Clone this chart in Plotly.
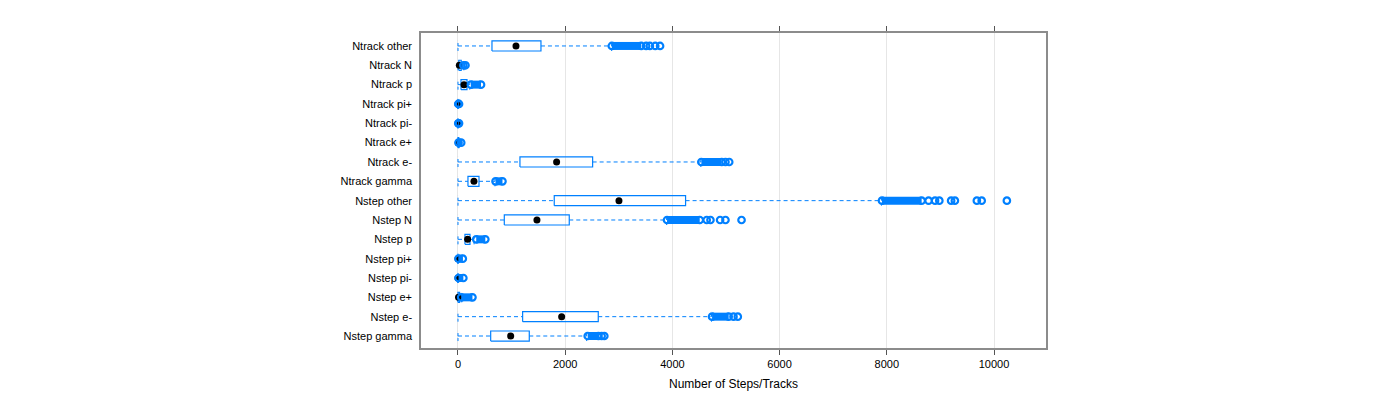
"""Lattice-style box-and-whisker chart of steps/tracks per particle type."""

import plotly.graph_objects as go

categories = [
    "Ntrack other", "Ntrack N", "Ntrack p", "Ntrack pi+", "Ntrack pi-", "Ntrack e+",
    "Ntrack e-", "Ntrack gamma", "Nstep other", "Nstep N", "Nstep p", "Nstep pi+",
    "Nstep pi-", "Nstep e+", "Nstep e-", "Nstep gamma",
]
q1 = [634, 15, 56, 0, 0, 0, 1156, 186, 1796, 864, 130, 0, 0, 0, 1206, 610]
median = [1082, 25, 112, 0, 0, 5, 1840, 298, 3003, 1473, 180, 0, 0, 10, 1934, 983]
q3 = [1548, 60, 168, 0, 0, 15, 2512, 392, 4246, 2076, 224, 0, 0, 30, 2617, 1330]
whisker_lo = [0] * 16
whisker_hi = [2866, 110, 220, 0, 0, 30, 4530, 690, 7900, 3892, 300, 0, 0, 70, 4730, 2400]
# dense run of outliers (drawn as overlapping circles), then the sparse ones
dense_lo = [2870, 100, 240, 5, 5, 10, 4540, 700, 7910, 3900, 340, 10, 10, 60, 4740, 2420]
dense_hi = [3420, 140, 430, 20, 20, 60, 4920, 830, 8650, 4510, 510, 90, 100, 270, 5050, 2620]
sparse = [
    [3510, 3580, 3680, 3770], [], [], [], [], [], [4990, 5060], [],
    [8780, 8900, 8980, 9200, 9270, 9680, 9770, 10240], [4640, 4710, 4890, 4990, 5290],
    [], [], [], [], [5140, 5220], [2680, 2730],
]
x_ticks = [0, 2000, 4000, 6000, 8000, 10000]

BLUE = "#0080ff"
H = 0.26  # half box height in row units

n = len(categories)
ypos = [n - i for i in range(n)]

fig = go.Figure()

box_x, box_y, wh_x, wh_y, st_x, st_y = [], [], [], [], [], []
for i in range(n):
    y = ypos[i]
    box_x += [q1[i], q3[i], q3[i], q1[i], q1[i], None]
    box_y += [y - H, y - H, y + H, y + H, y - H, None]
    wh_x += [whisker_lo[i], q1[i], None, q3[i], whisker_hi[i], None]
    wh_y += [y, y, None, y, y, None]
    st_x += [whisker_lo[i], whisker_lo[i], None, whisker_hi[i], whisker_hi[i], None]
    st_y += [y - H, y + H, None, y - H, y + H, None]

fig.add_trace(go.Scatter(x=wh_x, y=wh_y, mode="lines", line=dict(color=BLUE, width=1, dash="4px,3px"), hoverinfo="skip"))
fig.add_trace(go.Scatter(x=st_x, y=st_y, mode="lines", line=dict(color=BLUE, width=1, dash="3px,2px"), hoverinfo="skip"))
fig.add_trace(go.Scatter(x=box_x, y=box_y, mode="lines", line=dict(color=BLUE, width=1.2), hoverinfo="skip"))

fig.add_trace(go.Scatter(x=median, y=ypos, mode="markers", marker=dict(color="black", size=7), hoverinfo="skip"))

band_x, band_y, end_x, end_y = [], [], [], []
for i in range(n):
    y = ypos[i]
    band_x += [dense_lo[i], dense_hi[i], None]
    band_y += [y, y, None]
    end_x += [dense_lo[i], dense_hi[i]] + sparse[i]
    end_y += [y, y] + [y] * len(sparse[i])

fig.add_trace(go.Scatter(x=band_x, y=band_y, mode="lines", line=dict(color=BLUE, width=8), hoverinfo="skip"))
fig.add_trace(go.Scatter(
    x=end_x, y=end_y, mode="markers",
    marker=dict(symbol="circle-open", size=6.5, color=BLUE, line=dict(width=2.2, color=BLUE)),
    hoverinfo="skip",
))

fig.update_layout(
    width=1400, height=400,
    margin=dict(l=413, r=362, t=25, b=60),
    paper_bgcolor="white", plot_bgcolor="white",
    showlegend=False,
    font=dict(family="Liberation Sans, Arial, sans-serif", size=11, color="black"),
)
fig.update_xaxes(
    range=[-690, 10970], tickvals=x_ticks, ticktext=[str(v) for v in x_ticks],
    ticks="outside", ticklen=5, tickcolor="#555", tickwidth=1,
    showline=True, linecolor="#8c8c8c", linewidth=1.5, mirror="ticks",
    showgrid=True, gridcolor="#e6e6e6", gridwidth=1, zeroline=False,
    title=dict(text="Number of Steps/Tracks", font=dict(size=12), standoff=11),
    tickfont=dict(size=11),
)
fig.update_yaxes(
    range=[0.38, 16.67], tickvals=ypos, ticktext=categories,
    showline=True, linecolor="#8c8c8c", linewidth=1.5, mirror=True,
    showgrid=False, zeroline=False, ticks="outside", ticklen=5,
    tickcolor="rgba(0,0,0,0)", tickfont=dict(size=11),
)

fig.write_html("out.html")
